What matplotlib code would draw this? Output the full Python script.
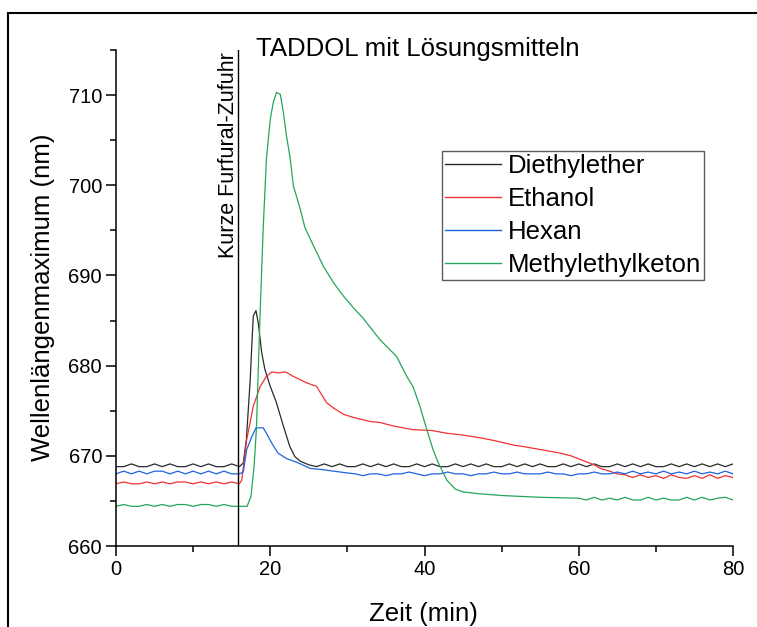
import matplotlib
matplotlib.use("Agg")
import matplotlib.pyplot as plt
from matplotlib.patches import Rectangle
from matplotlib.ticker import MultipleLocator

plt.rcParams['font.family'] = ['Liberation Sans', 'DejaVu Sans']

# ---------------- data ----------------
diethyl_t = [0, 1, 2, 3, 4, 5, 6, 7, 8, 9, 10, 11, 12, 13, 14, 15, 16,
             16.5, 16.9, 17.4, 17.6, 17.8, 18.15, 18.45, 18.9, 19.3, 20.0, 20.8,
             21.7, 22.55, 23.2, 23.9, 25,
             26, 27, 28, 29, 30, 31, 32, 33, 34, 35, 36, 37, 38, 39, 40, 41, 42,
             43, 44, 45, 46, 47, 48, 49, 50, 51, 52, 53, 54, 55, 56, 57, 58, 59,
             60, 61, 62, 63, 64, 65, 66, 67, 68, 69, 70, 71, 72, 73, 74, 75, 76,
             77, 78, 79, 80]
diethyl_v = [668.8, 668.8, 669.1, 668.8, 668.8, 669.1, 668.8, 669.1, 668.8, 668.8,
             669.1, 668.8, 669.1, 668.8, 668.8, 669.1, 668.8,
             669.2, 671.8, 678.4, 682.1, 685.5, 686.1, 684.7, 681.4, 679.6, 677.7,
             675.9, 673.3, 671.0, 669.9, 669.4, 669.0,
             668.8, 669.1, 668.8, 669.1, 668.8, 668.8, 669.1, 668.8, 669.1, 668.8,
             669.1, 668.8, 668.8, 669.1, 668.8, 669.1, 668.8, 668.8, 669.1, 668.8,
             669.1, 668.8, 669.1, 668.8, 668.8, 669.1, 668.8, 669.1, 668.8, 669.1,
             668.8, 668.8, 669.1, 668.8, 669.1, 668.8, 669.1, 668.8, 668.8, 669.1,
             668.8, 669.1, 668.8, 669.1, 668.8, 668.8, 669.1, 668.8, 669.1, 668.8,
             669.1, 668.8, 669.1, 668.8, 669.1]

ethanol_t = [0, 1, 2, 3, 4, 5, 6, 7, 8, 9, 10, 11, 12, 13, 14, 15, 16,
             16.3, 16.95, 17.8, 18.7, 19.5, 20.2, 21, 22, 23.0, 24.7, 26.0, 27.3,
             28.2, 29.5, 31, 33, 34.2, 36, 38.5, 41, 42.9, 45, 47.2, 49, 51.5, 53,
             55, 57.6, 59, 60.5, 62, 62.8, 64, 65, 66,
             67, 68, 69, 70, 71, 72, 73, 74, 75, 76, 77, 78, 79, 80]
ethanol_v = [666.9, 667.1, 666.9, 666.9, 667.1, 666.9, 667.1, 666.9, 667.1, 667.1,
             666.9, 667.1, 666.9, 667.1, 666.9, 667.1, 666.9,
             667.3, 671.8, 675.5, 677.7, 678.8, 679.3, 679.2, 679.3, 678.8, 678.1,
             677.7, 675.9, 675.3, 674.6, 674.2, 673.8, 673.7, 673.3, 672.9, 672.8,
             672.5, 672.3, 672.0, 671.7, 671.2, 671.0, 670.7, 670.3, 670.0, 669.5,
             669.0, 668.6, 668.3, 668.0, 667.9,
             667.6, 667.9, 667.6, 667.8, 667.5, 667.9, 667.6, 667.5, 667.8, 667.5,
             667.9, 667.5, 667.8, 667.6]

hexan_t = [0, 1, 2, 3, 4, 5, 6, 7, 8, 9, 10, 11, 12, 13, 14, 15, 16,
           16.5, 16.95, 17.6, 18.15, 19.1, 19.5, 20.2, 21.0, 22.1, 23.4, 25.2,
           26.5, 28.2, 30,
           31, 32, 33, 34, 35, 36, 37, 38, 39, 40, 41, 42, 43, 44, 45, 46, 47,
           48, 49, 50, 51, 52, 53, 54, 55, 56, 57, 58, 59, 60, 61, 62, 63, 64,
           65, 66, 67, 68, 69, 70, 71, 72, 73, 74, 75, 76, 77, 78, 79, 80]
hexan_v = [668.0, 668.3, 668.0, 668.3, 668.0, 668.3, 668.3, 668.0, 668.3, 668.0,
           668.3, 668.0, 668.3, 668.0, 668.3, 668.0, 668.0,
           668.2, 670.7, 672.1, 673.1, 673.1, 672.5, 671.4, 670.3, 669.7, 669.3,
           668.6, 668.5, 668.3, 668.1,
           668.0, 667.8, 668.0, 668.0, 667.8, 668.0, 668.0, 668.2, 668.0, 667.8,
           668.0, 668.0, 668.2, 668.0, 668.0, 667.8, 668.0, 668.0, 668.2, 668.0,
           668.0, 668.2, 668.0, 668.0, 668.0, 668.2, 668.0, 668.0, 667.8, 668.0,
           668.0, 668.2, 668.0, 668.0, 668.2, 668.0, 668.3, 668.0, 668.2, 668.0,
           668.3, 668.0, 668.2, 668.0, 668.3, 668.0, 668.2, 668.0, 668.3, 668.0]

mek_t = [0, 1, 2, 3, 4, 5, 6, 7, 8, 9, 10, 11, 12, 13, 14, 15, 16, 17,
         17.5, 17.9, 18.2, 18.7, 19.1, 19.5, 20.0, 20.4, 20.8, 21.3, 21.7, 22.1,
         22.6, 23.0, 23.4, 23.9, 24.5, 25.6, 26.9, 28.2, 29.5, 30.8, 32, 34.2,
         36.4, 37.7, 38.5, 39.4, 40.3, 41.1, 41.8, 42.9, 44, 45, 47, 50, 55, 60,
         61, 62, 63, 64, 65, 66, 67, 68, 69, 70, 71, 72, 73, 74, 75, 76, 77, 78,
         79, 80]
mek_v = [664.4, 664.6, 664.4, 664.4, 664.6, 664.4, 664.6, 664.4, 664.6, 664.6,
         664.4, 664.6, 664.6, 664.4, 664.6, 664.4, 664.4, 664.4,
         665.5, 668.8, 672.9, 686.2, 695.5, 702.9, 707.3, 709.2, 710.3, 710.1,
         708.1, 705.5, 702.9, 699.9, 698.8, 697.3, 695.3, 693.3, 691.0, 689.2,
         687.7, 686.4, 685.3, 682.9, 681.0, 678.8, 677.7, 675.5, 672.9, 670.7,
         669.2, 667.3, 666.3, 666.0, 665.8, 665.6, 665.4, 665.3,
         665.1, 665.4, 665.1, 665.3, 665.1, 665.4, 665.1, 665.1, 665.4, 665.1,
         665.3, 665.1, 665.1, 665.4, 665.1, 665.4, 665.1, 665.3, 665.4, 665.1]

series_names = ["Diethylether", "Ethanol", "Hexan", "Methylethylketon"]
series_colors = ["#2a2a2a", "#f03232", "#1e64e0", "#25a55a"]

title_text = "TADDOL mit Lösungsmitteln"
event_time = 15.8
event_text = "Kurze Furfural-Zufuhr"
x_ticks = [0, 20, 40, 60, 80]
y_ticks = [660, 670, 680, 690, 700, 710]

# ---------------- figure ----------------
W, H = 757, 627
fig = plt.figure(figsize=(W / 100, H / 100), dpi=100)

def fx(px):
    return px / W

def fy(py):
    return 1 - py / H

ax = fig.add_axes([fx(116), fy(546), fx(733) - fx(116), fy(50) - fy(546)])

data = [(diethyl_t, diethyl_v), (ethanol_t, ethanol_v),
        (hexan_t, hexan_v), (mek_t, mek_v)]
for (t, v), name, c in zip(data, series_names, series_colors):
    ax.plot(t, v, color=c, lw=0.9, label=name)

ax.axvline(event_time, color="black", lw=1.0)
ax.text(14.6, 714.8, event_text, rotation=90, ha="center", va="top",
        fontsize=15.5)

ax.set_xlim(0, 80)
ax.set_ylim(660, 715)
ax.set_xticks(x_ticks)
ax.set_yticks(y_ticks)
ax.xaxis.set_minor_locator(MultipleLocator(10))
ax.yaxis.set_minor_locator(MultipleLocator(5))
ax.tick_params(which="major", direction="out", length=7, width=1.1,
               labelsize=14.5, pad=3)
ax.tick_params(which="minor", direction="out", length=4, width=1.1)
for s in ["top", "right"]:
    ax.spines[s].set_visible(False)
for s in ["left", "bottom"]:
    ax.spines[s].set_linewidth(1.1)

leg = ax.legend(loc="upper left", bbox_to_anchor=(fx(442), fy(151)),
                bbox_transform=fig.transFigure, borderaxespad=0,
                fontsize=18.5, frameon=True, fancybox=False,
                handlelength=2.2, handletextpad=0.28, borderpad=0.1,
                labelspacing=0.36)
leg.get_frame().set_edgecolor("#333333")
leg.get_frame().set_linewidth(1.0)
for line in leg.get_lines():
    line.set_linewidth(1.0)

fig.text(fx(418), fy(56), title_text, ha="center", va="baseline",
         fontsize=18.5)
fig.text(fx(423), fy(621), "Zeit (min)", ha="center", va="baseline",
         fontsize=18.5)
fig.text(fx(50.5), fy(297), "Wellenlängenmaximum (nm)", rotation=90,
         rotation_mode="anchor", ha="center", va="baseline", fontsize=18.5)

# outer frame (extends past right/bottom edges)
fig.patches.append(Rectangle((fx(8), -0.1), 1.2, fy(13) + 0.1,
                             transform=fig.transFigure, fill=False,
                             edgecolor="black", lw=1.5))

fig.savefig("out.png", dpi=100)
